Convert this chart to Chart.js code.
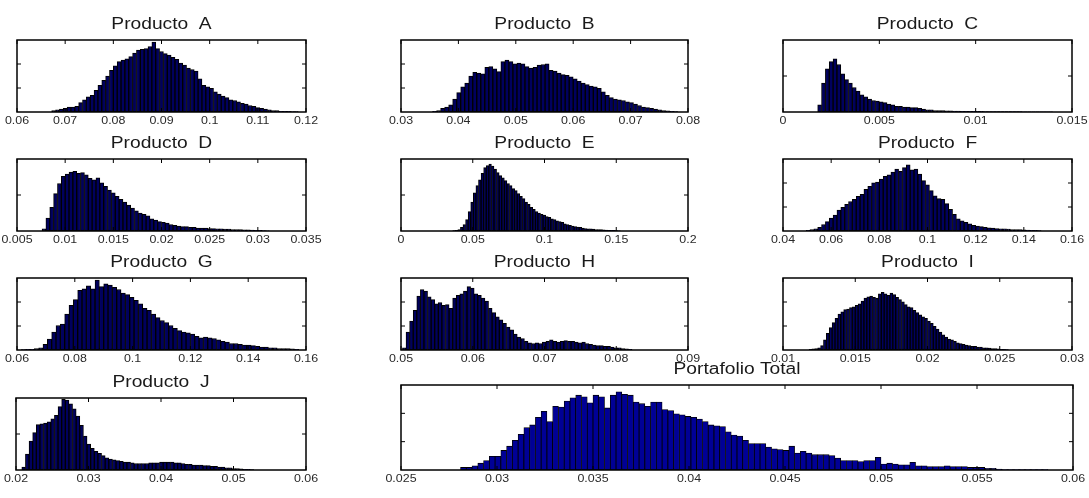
<!DOCTYPE html>
<html>
<head>
<meta charset="utf-8">
<script src="https://cdn.jsdelivr.net/npm/chart.js@4.4.1/dist/chart.umd.min.js"></script>
<style>
  body { margin: 0; background: #fff; }
  #hoja { position: relative; width: 1089px; height: 498px; overflow: hidden; }
  #hoja canvas { position: absolute; }
</style>
</head>
<body>
<div id="hoja"></div>
<script>
// histogramas: inicio del primer bin, ancho del bin, frecuencias (% del alto del eje)
const inicioA = 0.0672, anchoA = 0.0008;
const frecA = [2,3,4,5,7,7,8,13,17,21,23,30,37,44,50,58,64,70,72,74,77,82,86,87,88,91,97,88,84,81,79,76,73,68,65,61,59,57,46,37,35,33,28,25,22,20,17,16,14,12,11,9,8,6,5,4,3,2,2,1,1,1,0.5,0.5];
const ticksA = ['0.06','0.07','0.08','0.09','0.1','0.11','0.12'];

const inicioB = 0.0355, anchoB = 0.0007;
const frecB = [1,2,5,7,10,18,27,35,40,50,55,54,53,62,63,60,56,70,72,70,67,68,67,63,61,62,65,66,67,58,57,54,52,51,49,46,43,40,38,36,35,33,28,23,20,18,17,16,14,13,11,9,7,6,5,4,3,2,1.5,1,0.5];
const ticksB = ['0.03','0.04','0.05','0.06','0.07','0.08'];

const inicioC = 0.0018, anchoC = 0.0002;
const frecC = [10,40,60,70,74,66,53,45,40,34,29,24,21,18,16,15,14,13,11,10,8,8,7,7,6,6,5,4,3,3,2,2,2,1.5,1.5,1.2,1.2,1,1,1,1,0.8,0.8,0.7,0.7,0.6,0.6,0.6,0.5,0.5,0.5,0.5,0.5,0.4,0.4,0.4,0.4,0.4,0.3,0.3,0.3];
const ticksC = ['0','0.005','0.01','0.015'];

const inicioD = 0.0076, anchoD = 0.0004;
const frecD = [3,18,33,52,66,76,79,82,83,80,81,78,73,71,74,67,62,57,53,48,44,40,36,32,28,25,23,21,17,15,13,12,11,9,8,7,6,6,5,5,4,4,4,3.5,3.5,3,3,2.5,2.5,2,2,2,1.5,1.5,1.2,1,1,0.6,0.4];
const ticksD = ['0.005','0.01','0.015','0.02','0.025','0.03','0.035'];

const inicioE = 0.036, anchoE = 0.0018;
const frecE = [0.5,1,2,5,9,16,27,40,53,63,71,80,88,91,93,90,86,81,77,74,70,66,63,59,56,52,48,45,40,37,33,30,27,25,23,22,20,19,17,16,14,13,12,10,9,8,7,6,5.5,5,4,3.5,3,3,2.5,2,2,1.8,1.5,1.2,1,1,0.8,0.6,0.4];
const ticksE = ['0','0.05','0.1','0.15','0.2'];

const inicioF = 0.0496, anchoF = 0.0016;
const frecF = [1,2,3,5,9,13,18,22,29,33,37,41,44,48,51,58,62,67,68,72,76,78,82,86,83,88,92,85,86,79,70,64,56,49,45,44,38,30,23,17,14,12,10,8,7,6,5,4.5,4,3.5,3,3,2.5,2,2,1.8,1.5,1.2,1,1,0.5];
const ticksF = ['0.04','0.06','0.08','0.1','0.12','0.14','0.16'];

const inicioG = 0.0615, anchoG = 0.0015;
const frecG = [0.5,1,1,2,3,8,15,25,34,36,50,62,70,83,85,89,85,97,88,92,90,87,84,79,77,73,69,64,58,55,50,45,41,38,34,30,27,25,24,22,19,17,18,17,16,14,12,11,9,9,8,7,7,6,5,4,4,3,3,2,2,2,1.5,1];
const ticksG = ['0.06','0.08','0.1','0.12','0.14','0.16'];

const inicioH = 0.0502, anchoH = 0.0005;
const frecH = [3,25,40,55,75,84,82,74,70,64,66,62,63,58,72,76,78,82,88,86,78,76,72,68,58,52,46,42,37,32,28,22,18,16,12,10,9,10,9,11,12,14,12,11,12,13,12,12,11,10,11,9,8,7,6,6,5,5,4,3,3,2,1.5,1];
const ticksH = ['0.05','0.06','0.07','0.08','0.09'];

const inicioI = 0.0118, anchoI = 0.0002;
const frecI = [1,1.5,2,3,6,14,23,31,38,44,50,53,56,57,59,60,62,64,68,72,74,75,73,72,78,80,78,76,79,77,73,70,67,63,60,59,55,52,49,46,44,40,37,33,29,25,21,18,15,14,12,10,9,8,7,6,5,5,4,4,3,3,2.5,2,2,1.5,1,1,0.5];
const ticksI = ['0.01','0.015','0.02','0.025','0.03'];

const inicioJ = 0.0208, anchoJ = 0.0005;
const frecJ = [4,22,40,52,63,64,65,67,71,76,88,98,97,92,85,75,62,47,36,30,26,23,20,17,15,14,13,12,11,11,10,9,9,9,9,10,10,10,11,11,11,11,10,10,9,8,8,7,7,7,6,6,5,5,4,4,3,3,2,2,1.5,1,1,0.5];
const ticksJ = ['0.02','0.03','0.04','0.05','0.06'];

const inicioT = 0.0281, anchoT = 0.0003;
const frecT = [3,3,5,8,11,16,16,23,28,35,42,50,53,62,69,57,75,74,81,85,88,86,79,88,86,73,88,92,89,88,80,78,75,80,80,71,70,66,65,63,62,60,57,53,52,51,45,41,40,35,31,31,31,27,25,24,23,28,20,22,20,18,18,18,17,14,11,11,11,10,11,11,15,7,8,7,6,6,9,5,5,4,4,4,5,4,4,4,3,3,3,2,2,1,0.5,0.5,0.5,0.5,0.5,0.5,0.5,0.5];
const ticksT = ['0.025','0.03','0.035','0.04','0.045','0.05','0.055','0.06'];

const yTres = [100/3, 200/3];
const yDos = [50];

// posicion de cada eje en la hoja: [izq, arriba, der, abajo]
const paneles = [
  { titulo: 'Producto  A', inicio: inicioA, ancho: anchoA, frec: frecA, ticks: ticksA, yt: yTres, caja: [17, 40, 306, 112] },
  { titulo: 'Producto  B', inicio: inicioB, ancho: anchoB, frec: frecB, ticks: ticksB, yt: yTres, caja: [401, 40, 688, 112] },
  { titulo: 'Producto  C', inicio: inicioC, ancho: anchoC, frec: frecC, ticks: ticksC, yt: yDos, caja: [783, 40, 1072, 112] },
  { titulo: 'Producto  D', inicio: inicioD, ancho: anchoD, frec: frecD, ticks: ticksD, yt: yDos, caja: [17, 159, 306, 231] },
  { titulo: 'Producto  E', inicio: inicioE, ancho: anchoE, frec: frecE, ticks: ticksE, yt: yDos, caja: [401, 159, 688, 231] },
  { titulo: 'Producto  F', inicio: inicioF, ancho: anchoF, frec: frecF, ticks: ticksF, yt: yTres, caja: [783, 159, 1072, 231] },
  { titulo: 'Producto  G', inicio: inicioG, ancho: anchoG, frec: frecG, ticks: ticksG, yt: yTres, caja: [17, 278, 306, 350] },
  { titulo: 'Producto  H', inicio: inicioH, ancho: anchoH, frec: frecH, ticks: ticksH, yt: yTres, caja: [401, 278, 688, 350] },
  { titulo: 'Producto  I', inicio: inicioI, ancho: anchoI, frec: frecI, ticks: ticksI, yt: yTres, caja: [783, 278, 1072, 350] },
  { titulo: 'Producto  J', inicio: inicioJ, ancho: anchoJ, frec: frecJ, ticks: ticksJ, yt: yDos, caja: [16, 398, 306, 470] },
  { titulo: 'Portafolio Total', inicio: inicioT, ancho: anchoT, frec: frecT, ticks: ticksT, yt: yTres, caja: [401, 385, 1073, 470], total: true }
];

const PAD = { left: 30, right: 30, top: 36, bottom: 22 };

// marco estilo matlab: caja, ticks hacia dentro, etiquetas y titulo
const marco = {
  id: 'marco',
  afterDraw(chart, args, o) {
    const { ctx, chartArea: a, scales: { x, y } } = chart;
    ctx.save();
    ctx.strokeStyle = '#000';
    ctx.lineWidth = 1.5;
    ctx.strokeRect(a.left, a.top, a.right - a.left, a.bottom - a.top);
    ctx.lineWidth = 1;
    ctx.beginPath();
    o.ticks.forEach(t => {
      const px = x.getPixelForValue(Number(t));
      ctx.moveTo(px, a.bottom); ctx.lineTo(px, a.bottom - 4);
      ctx.moveTo(px, a.top); ctx.lineTo(px, a.top + 4);
    });
    o.yt.forEach(v => {
      const py = y.getPixelForValue(v);
      ctx.moveTo(a.left, py); ctx.lineTo(a.left + 4, py);
      ctx.moveTo(a.right, py); ctx.lineTo(a.right - 4, py);
    });
    ctx.stroke();

    ctx.fillStyle = '#2a2a2a';
    ctx.textAlign = 'center';
    ctx.textBaseline = 'alphabetic';
    ctx.font = '11.5px "Liberation Sans", Arial, sans-serif';
    o.ticks.forEach(t => {
      const px = x.getPixelForValue(Number(t));
      ctx.save();
      ctx.translate(px, a.bottom + 12);
      ctx.scale(1.08, 1);
      ctx.fillText(t, 0, 0);
      ctx.restore();
    });
    ctx.fillStyle = '#1a1a1a';
    ctx.font = '16px "Liberation Sans", Arial, sans-serif';
    ctx.save();
    ctx.translate((a.left + a.right) / 2, a.top - 11);
    ctx.scale(1.2, 1);
    ctx.fillText(o.titulo, 0, 0);
    ctx.restore();
    ctx.restore();
  }
};

const hoja = document.getElementById('hoja');

paneles.forEach(p => {
  const [l, t, r, b] = p.caja;
  const cv = document.createElement('canvas');
  cv.width = r - l + PAD.left + PAD.right;
  cv.height = b - t + PAD.top + PAD.bottom;
  cv.style.left = (l - PAD.left) + 'px';
  cv.style.top = (t - PAD.top) + 'px';
  hoja.appendChild(cv);

  const puntos = p.frec.map((f, i) => ({ x: p.inicio + p.ancho * (i + 0.5), y: f }));

  new Chart(cv, {
    type: 'bar',
    data: {
      datasets: [{
        data: puntos,
        backgroundColor: p.total ? '#000096' : '#00005e',
        borderColor: '#000',
        borderWidth: p.total ? 0.8 : 1,
        borderSkipped: false,
        barPercentage: 1,
        categoryPercentage: 1
      }]
    },
    options: {
      responsive: false,
      animation: false,
      events: [],
      layout: { padding: PAD },
      plugins: {
        legend: { display: false },
        tooltip: { enabled: false },
        marco: { titulo: p.titulo, ticks: p.ticks, yt: p.yt }
      },
      scales: {
        x: { type: 'linear', min: Number(p.ticks[0]), max: Number(p.ticks[p.ticks.length - 1]), display: false, offset: false },
        y: { min: 0, max: 100, display: false }
      }
    },
    plugins: [marco]
  });
});
</script>
</body>
</html>
